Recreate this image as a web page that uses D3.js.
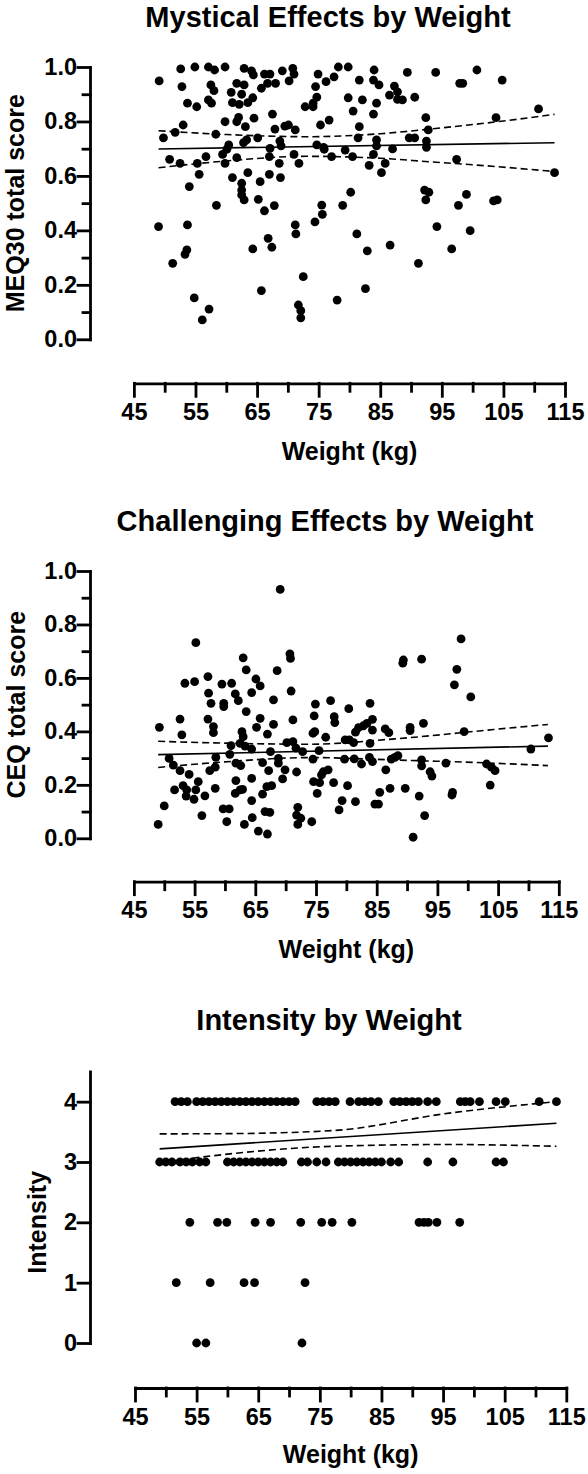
<!DOCTYPE html>
<html>
<head>
<meta charset="utf-8">
<script src="https://cdn.jsdelivr.net/npm/d3@7"></script>
<style>
  html, body { margin: 0; padding: 0; background: #fff; }
  svg { display: block; }
  text { font-family: "Liberation Sans", Arial, Helvetica, sans-serif; font-weight: bold; fill: #000; }
</style>
</head>
<body>
<div id="chart"></div>
<script>
// ---------------- DATA ----------------
const xTickValues = [45, 55, 65, 75, 85, 95, 105, 115];
const xMinorTicks = [50, 60, 70, 80, 90, 100, 110];
const scoreTicks = [0, 0.2, 0.4, 0.6, 0.8, 1.0];
const scoreMinorTicks = [0.1, 0.3, 0.5, 0.7, 0.9];
const intensityTicks = [0, 1, 2, 3, 4];

const titles = ["Mystical Effects by Weight", "Challenging Effects by Weight", "Intensity by Weight"];
const yTitles = ["MEQ30 total score", "CEQ total score", "Intensity"];
const xTitle = "Weight (kg)";

// Panel 1: MEQ30
const meqWeight = [52.6,54.9,57.1,58.1,59.8,62.9,64.1,64.4,66.2,67.1,69.1,70.8,71.0,49.1,52.8,57.5,58.0,61.7,62.9,60.8,62.5,65.7,66.7,68.0,70.2,53.7,55.2,57.1,57.6,61.0,62.1,63.5,64.3,72.8,67.5,59.8,61.7,62.0,64.5,63.1,53.0,67.9,69.5,70.1,71.2,51.7,49.8,58.3,65.1,62.8,63.3,68.7,68.9,60.4,60.1,59.4,67.1,67.0,71.0,50.8,52.5,55.3,56.7,59.8,61.7,68.6,71.8,55.6,63.5,61.0,65.5,67.0,68.8,54.0,62.5,62.5,62.5,62.9,65.2,66.2,67.8,58.4,49.0,53.7,71.2,71.3,66.8,67.4,64.3,53.6,53.3,51.3,72.5,65.7,54.8,57.2,56.1,71.7,72.1,72.1,
  78.2,79.8,84.0,89.4,94.0,100.7,74.9,77.5,76.2,81.6,83.9,84.8,87.3,97.9,98.4,74.5,74.7,74.1,74.1,79.8,82.1,84.4,86.5,87.8,87.8,88.6,90.6,80.6,83.9,76.7,75.3,81.6,92.4,103.8,92.8,81.4,84.4,89.7,90.6,92.5,92.5,74.7,75.8,75.9,79.3,84.4,87.0,77.1,80.5,83.9,83.2,85.8,85.2,97.4,80.2,92.2,92.9,92.4,99.0,103.4,104.0,75.5,78.9,97.7,75.6,74.4,94.2,99.6,81.2,86.6,82.9,96.6,91.2,82.6,78.0,104.8,110.7,113.3];
const meqScore = [0.993,1.0,1.0,0.989,1.0,0.995,0.986,0.971,0.974,0.974,0.986,0.995,0.974,0.949,0.928,0.934,0.913,0.940,0.934,0.907,0.900,0.922,0.940,0.940,0.949,0.867,0.854,0.879,0.867,0.869,0.863,0.869,0.887,0.854,0.827,0.799,0.799,0.815,0.812,0.781,0.787,0.772,0.783,0.787,0.769,0.760,0.740,0.753,0.740,0.722,0.732,0.728,0.710,0.714,0.698,0.679,0.701,0.671,0.679,0.661,0.646,0.646,0.671,0.646,0.667,0.646,0.646,0.606,0.612,0.594,0.579,0.606,0.594,0.561,0.573,0.548,0.530,0.512,0.514,0.472,0.491,0.492,0.414,0.420,0.420,0.387,0.371,0.338,0.332,0.328,0.312,0.279,0.230,0.179,0.152,0.111,0.071,0.126,0.105,0.079,
  1.0,1.0,0.989,0.980,0.980,0.989,0.974,0.964,0.946,0.952,0.952,0.934,0.930,0.940,0.940,0.928,0.889,0.867,0.854,0.887,0.879,0.867,0.897,0.909,0.881,0.879,0.889,0.838,0.827,0.805,0.787,0.781,0.814,0.814,0.769,0.740,0.732,0.740,0.740,0.728,0.705,0.714,0.705,0.698,0.695,0.710,0.699,0.671,0.671,0.679,0.639,0.646,0.612,0.661,0.540,0.548,0.540,0.512,0.532,0.508,0.512,0.493,0.492,0.492,0.459,0.431,0.414,0.399,0.387,0.346,0.325,0.332,0.279,0.186,0.144,0.952,0.846,0.612];
const meqFitX = [49, 113.3];
const meqFitY = [0.699, 0.722];
const meqBandX = [49, 60, 73, 85, 93, 104, 113.3];
const meqUpper = [0.766, 0.752, 0.744, 0.755, 0.772, 0.799, 0.826];
const meqLower = [0.630, 0.655, 0.672, 0.665, 0.652, 0.634, 0.616];

// Panel 2: CEQ
const ceqWeight = [69.1,55.2,63.0,70.7,70.8,63.5,68.6,53.4,55.0,57.2,59.5,61.1,65.1,65.8,61.7,64.4,62.2,57.3,57.7,59.8,59.8,68.0,70.9,63.5,52.6,57.2,65.8,71.2,49.2,58.1,58.1,65.2,68.0,52.9,62.8,63.0,67.0,70.2,71.2,61.0,62.5,63.3,64.4,67.5,72.8,71.7,50.8,51.5,52.6,54.1,58.5,58.4,57.5,60.8,61.8,62.6,66.2,68.8,68.8,69.9,71.8,67.2,51.7,53.1,53.7,53.6,54.9,55.2,55.6,56.7,58.4,61.8,61.7,62.5,62.9,64.4,66.2,66.9,67.7,69.5,64.4,50.0,49.0,56.2,59.7,60.7,60.3,63.2,64.5,66.6,67.4,65.5,67.0,72.0,71.8,72.5,72.0,
  98.9,89.4,89.3,92.4,98.2,97.8,100.5,74.9,77.4,80.4,83.9,74.7,78.0,78.1,84.3,83.4,82.8,82.0,81.5,92.7,74.5,74.8,76.6,79.8,80.5,81.2,84.3,86.4,87.0,90.5,90.5,99.4,83.9,75.5,74.5,79.7,81.3,82.5,83.8,84.3,87.4,88.0,88.5,86.5,92.4,92.4,93.8,94.1,96.4,103.1,103.9,104.5,76.2,77.0,75.9,74.6,75.6,77.9,75.2,80.2,85.5,87.2,89.7,92.0,97.5,97.4,103.7,79.3,81.5,84.7,85.3,78.8,92.9,91.0,74.3,110.4,113.3];
const ceqScore = [0.931,0.732,0.675,0.690,0.673,0.630,0.627,0.580,0.586,0.605,0.577,0.580,0.596,0.570,0.540,0.545,0.515,0.543,0.505,0.505,0.493,0.518,0.551,0.474,0.446,0.446,0.449,0.443,0.415,0.418,0.395,0.415,0.426,0.387,0.399,0.380,0.390,0.358,0.362,0.347,0.355,0.345,0.334,0.324,0.324,0.337,0.299,0.274,0.253,0.239,0.303,0.266,0.253,0.314,0.281,0.272,0.283,0.299,0.281,0.256,0.248,0.253,0.181,0.197,0.181,0.158,0.146,0.181,0.212,0.159,0.187,0.216,0.168,0.181,0.183,0.224,0.165,0.193,0.197,0.222,0.141,0.121,0.052,0.085,0.110,0.110,0.062,0.052,0.077,0.100,0.097,0.027,0.016,0.116,0.087,0.075,0.052,
  0.746,0.667,0.655,0.670,0.632,0.574,0.529,0.502,0.515,0.485,0.505,0.458,0.455,0.433,0.445,0.430,0.421,0.414,0.397,0.430,0.393,0.399,0.378,0.368,0.368,0.358,0.405,0.409,0.395,0.415,0.403,0.399,0.355,0.328,0.296,0.296,0.297,0.278,0.303,0.287,0.296,0.303,0.309,0.256,0.293,0.271,0.249,0.233,0.281,0.278,0.266,0.253,0.249,0.256,0.237,0.212,0.208,0.208,0.168,0.197,0.172,0.187,0.187,0.158,0.172,0.162,0.199,0.141,0.137,0.128,0.128,0.106,0.085,0.004,0.062,0.334,0.376];
const ceqFitX = [49, 113.2];
const ceqFitY = [0.313, 0.345];
const ceqBandX = [49, 60, 74, 88, 104.3, 113.2];
const ceqUpper = [0.363, 0.356, 0.352, 0.372, 0.407, 0.426];
const ceqLower = [0.265, 0.286, 0.302, 0.293, 0.281, 0.272];

// Panel 3: Intensity
const intWeight = [51.5,52.5,53.5,55,56,57,58,59,60,61,62,63,64,65,66,67,68,69,70,71,74.5,75.5,76.5,77.5,79.9,81.3,82.3,83.3,84.5,87,88,89,90,91,92.5,93.9,97.8,98.6,99.4,100.9,103.6,105.1,110.6,113.4,
  49,50,51,52.3,53.3,54.3,55.5,56.5,60,61,62,63,64,65,66,67,68,69,72,73,74.5,76,78,79,80,81,82,83,84,85,86.5,87.8,92.5,96.6,103.6,104.8,
  53.9,58.4,59.9,64.5,67.0,71.9,75.3,77.0,80.2,91.1,91.9,92.6,94.0,97.7,
  51.7,57.2,62.7,64.4,72.6,
  55.0,56.5,72.1];
const intValue = [4,4,4,4,4,4,4,4,4,4,4,4,4,4,4,4,4,4,4,4,4,4,4,4,4,4,4,4,4,4,4,4,4,4,4,4,4,4,4,4,4,4,4,4,
  3,3,3,3,3,3,3,3,3,3,3,3,3,3,3,3,3,3,3,3,3,3,3,3,3,3,3,3,3,3,3,3,3,3,3,3,
  2,2,2,2,2,2,2,2,2,2,2,2,2,2,
  1,1,1,1,1,
  0,0,0];
const intFitX = [49, 113.4];
const intFitY = [3.217, 3.643];
const intBandX = [49, 60, 77, 96, 113.4];
const intUpper = [3.466, 3.47, 3.52, 3.81, 4.0];
const intLower = [2.99, 3.13, 3.26, 3.29, 3.26];

// ---------------- DRAW ----------------
const W = 588, H = 1474;
const svg = d3.select("#chart").append("svg").attr("width", W).attr("height", H);
svg.append("rect").attr("width", W).attr("height", H).attr("fill", "#fff");

const panels = [
  { title: titles[0], yTitle: yTitles[0], xs: meqWeight, ys: meqScore, fitX: meqFitX, fitY: meqFitY,
    bandX: meqBandX, up: meqUpper, lo: meqLower, yDomain: [0, 1], yTicks: scoreTicks, yMinor: scoreMinorTicks, yFmt: d3.format(".1f"),
    xRange: [133.9, 565], yRange: [339.3, 67], yAxisX: 90, xAxisY: 383.3, titleY: 27, titleX: 328, xTitleY: 460, yTitleX: 24 },
  { title: titles[1], yTitle: yTitles[1], xs: ceqWeight, ys: ceqScore, fitX: ceqFitX, fitY: ceqFitY,
    bandX: ceqBandX, up: ceqUpper, lo: ceqLower, yDomain: [0, 1], yTicks: scoreTicks, yMinor: scoreMinorTicks, yFmt: d3.format(".1f"),
    xRange: [133.9, 558.8], yRange: [838.3, 571], yAxisX: 90, xAxisY: 881.7, titleY: 531, titleX: 325, xTitleY: 958, yTitleX: 25 },
  { title: titles[2], yTitle: yTitles[2], xs: intWeight, ys: intValue, fitX: intFitX, fitY: intFitY,
    bandX: intBandX, up: intUpper, lo: intLower, yDomain: [0, 4.5], yTicks: intensityTicks, yMinor: [], yFmt: d3.format("d"),
    xRange: [135, 566.3], yRange: [1343, 1071.5], yAxisX: 90, xAxisY: 1388, titleY: 1030, titleX: 329, xTitleY: 1463, yTitleX: 46 }
];

panels.forEach(p => {
  const x = d3.scaleLinear().domain([45, 115]).range(p.xRange);
  const y = d3.scaleLinear().domain(p.yDomain).range(p.yRange);
  const g = svg.append("g");

  g.append("text").attr("x", p.titleX).attr("y", p.titleY).attr("text-anchor", "middle")
    .attr("font-size", 29).text(p.title);

  g.append("g").attr("transform", `translate(${p.yAxisX},0)`)
    .call(d3.axisLeft(y).tickValues(p.yTicks).tickFormat(p.yFmt).tickSize(12).tickSizeOuter(0).tickPadding(1));
  if (p.yMinor.length) {
    g.append("g").attr("transform", `translate(${p.yAxisX},0)`)
      .call(d3.axisLeft(y).tickValues(p.yMinor).tickFormat("").tickSize(7).tickSizeOuter(0))
      .call(s => s.select(".domain").remove());
  }
  g.append("g").attr("transform", `translate(0,${p.xAxisY})`)
    .call(d3.axisBottom(x).tickValues(xTickValues).tickFormat(d3.format("d")).tickSize(13).tickSizeOuter(0).tickPadding(7));
  g.append("g").attr("transform", `translate(0,${p.xAxisY})`)
    .call(d3.axisBottom(x).tickValues(xMinorTicks).tickFormat("").tickSize(8).tickSizeOuter(0))
    .call(s => s.select(".domain").remove());

  g.selectAll(".domain, .tick line").attr("stroke", "#000").attr("stroke-width", 2.8).attr("stroke-linecap", "square");
  g.selectAll(".tick text").attr("font-size", 23.5).attr("font-family", "'Liberation Sans', Arial, sans-serif")
    .attr("font-weight", "bold").attr("fill", "#000");

  g.append("text").attr("x", (p.xRange[0] + p.xRange[1]) / 2).attr("y", p.xTitleY).attr("text-anchor", "middle")
    .attr("font-size", 25).text(xTitle);
  g.append("text").attr("transform", `translate(${p.yTitleX},${(p.yRange[0] + y(p.yTicks[p.yTicks.length - 1])) / 2}) rotate(-90)`)
    .attr("text-anchor", "middle").attr("font-size", 25).text(p.yTitle);

  g.append("g").selectAll("circle").data(p.xs.map((v, i) => [v, p.ys[i]])).join("circle")
    .attr("cx", d => x(d[0])).attr("cy", d => y(d[1])).attr("r", 4.4).attr("fill", "#000");

  const line = d3.line().x(d => x(d[0])).y(d => y(d[1])).curve(d3.curveMonotoneX);
  g.append("path").attr("d", line(p.fitX.map((v, i) => [v, p.fitY[i]])))
    .attr("fill", "none").attr("stroke", "#000").attr("stroke-width", 1.6);
  [p.up, p.lo].forEach(arr => {
    g.append("path").attr("d", line(p.bandX.map((v, i) => [v, arr[i]])))
      .attr("fill", "none").attr("stroke", "#000").attr("stroke-width", 1.6).attr("stroke-dasharray", "7,4");
  });
});
</script>
</body>
</html>
